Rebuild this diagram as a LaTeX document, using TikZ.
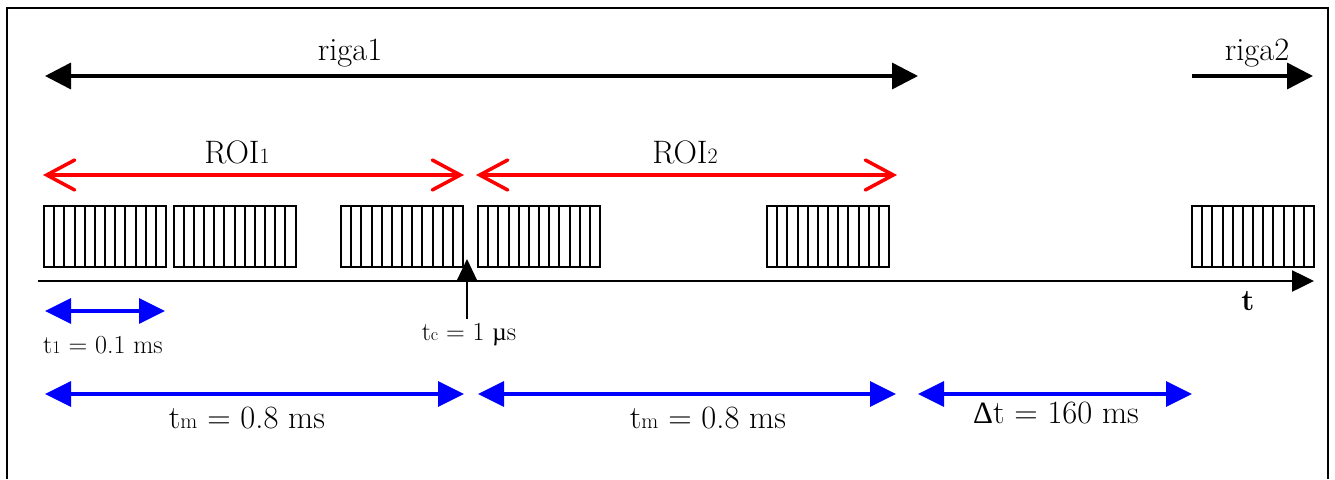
\documentclass[tikz,border=0pt]{standalone}
\usepackage{fontspec}
\newfontfamily\grk{Liberation Serif}
\usetikzlibrary{arrows.meta,calc}
\newcommand{\sbs}[1]{{\fontsize{22}{24}\selectfont #1}}
\newcommand{\sbsm}[1]{{\fontsize{18}{20}\selectfont #1}}
\tikzset{
  big/.style={font=\fontsize{32.5}{36}\selectfont, inner sep=0pt, anchor=base},
  small/.style={font=\fontsize{26}{30}\selectfont, inner sep=0pt, anchor=base},
  rowarrow/.style={line width=3.5pt, {Triangle[length=26pt,width=26pt]}-{Triangle[length=26pt,width=26pt]}},
  rowarrowr/.style={line width=3.5pt, -{Triangle[length=26pt,width=26pt]}},
  roiarrow/.style={line width=3.5pt, red, line cap=round, {Straight Barb[length=28pt,width=30pt,line cap=round]}-{Straight Barb[length=28pt,width=30pt,line cap=round]}},
  durarrow/.style={line width=3.5pt, blue, {Triangle[length=26pt,width=25pt]}-{Triangle[length=26pt,width=25pt]}},
  axisarrow/.style={line width=2.5pt, -{Triangle[length=22pt,width=21pt]}},
  stripebox/.style={draw, line width=2pt, minimum width=122pt, minimum height=61pt, inner sep=0pt,
    path picture={\foreach \i in {1,...,11}{
      \draw[line width=2pt] ($(path picture bounding box.south west)!\i/12!(path picture bounding box.south east)$) --
        ($(path picture bounding box.north west)!\i/12!(path picture bounding box.north east)$);}}},
}
\begin{document}
\begin{tikzpicture}[x=1pt,y=-1pt]
\useasboundingbox (0,0) rectangle (1335,479);
% frame
\draw[line width=2pt] (6.5,479) -- (6.5,7.5) -- (1327.5,7.5) -- (1327.5,479);

% row arrows
\coordinate (r1a) at (45,76);
\coordinate (r1b) at (918,76);
\coordinate (r2a) at (1192,76);
\coordinate (r2b) at (1313,76);
\draw[rowarrow] (r1a) -- (r1b);
\draw[rowarrowr] (r2a) -- (r2b);
\node[big] (riga1) at (350,60) {riga1};
\node[big] (riga2) at (1257,60) {riga2};

% ROI arrows
\coordinate (o1a) at (43,175);
\coordinate (o1b) at (464,175);
\coordinate (o2a) at (476,175);
\coordinate (o2b) at (897,175);
\draw[roiarrow] (o1a) -- (o1b);
\draw[roiarrow] (o2a) -- (o2b);
\node[big] (roi1) at (237,163) {ROI\sbs{1}};
\node[big] (roi2) at (685,163) {ROI\sbs{2}};

% boxes
\node[stripebox] (b1) at (105,236) {};
\node[stripebox] (b2) at (234.5,236) {};
\node[stripebox] (b3) at (402,236) {};
\node[stripebox] (b4) at (539,236) {};
\node[stripebox] (b5) at (828,236) {};
\node[stripebox] (b6) at (1253,236) {};

% time axis
\coordinate (ax0) at (38,281);
\coordinate (ax1) at (1314,281);
\draw[axisarrow] (ax0) -- (ax1);
\node[font=\bfseries\fontsize{30}{34}\selectfont, inner sep=0pt, anchor=base] (tlab) at (1248,310) {t};

% tc marker
\coordinate (tctip) at (467,259);
\coordinate (tcbase) at (467,280);
\coordinate (tcend) at (467,319);
\fill (tctip) -- ($(tcbase)+(-10,0)$) -- ($(tcbase)+(10,0)$) -- cycle;
\draw[line width=2pt] (tcbase) -- (tcend);
\node[small] (tclab) at (469,340) {t\sbsm{c} = 1 {\grk\fontsize{25}{28}\selectfont µ}s};

% t1
\coordinate (t1a) at (45,311);
\coordinate (t1b) at (165,311);
\draw[durarrow] (t1a) -- (t1b);
\node[small] (t1lab) at (103,353) {t\sbsm{1} = 0.1 ms};

% tm and delta t
\coordinate (m1a) at (45,394);
\coordinate (m1b) at (464,394);
\coordinate (m2a) at (478,394);
\coordinate (m2b) at (896,394);
\coordinate (da) at (918,394);
\coordinate (db) at (1192,394);
\draw[durarrow] (m1a) -- (m1b);
\draw[durarrow] (m2a) -- (m2b);
\draw[durarrow] (da) -- (db);
\node[big] (m1lab) at (247,428) {t\sbs{m} = 0.8 ms};
\node[big] (m2lab) at (708,428) {t\sbs{m} = 0.8 ms};
\node[big] (dlab) at (1056,423) {{\grk\fontsize{31}{34}\selectfont Δ}t = 160 ms};
\end{tikzpicture}
\end{document}
